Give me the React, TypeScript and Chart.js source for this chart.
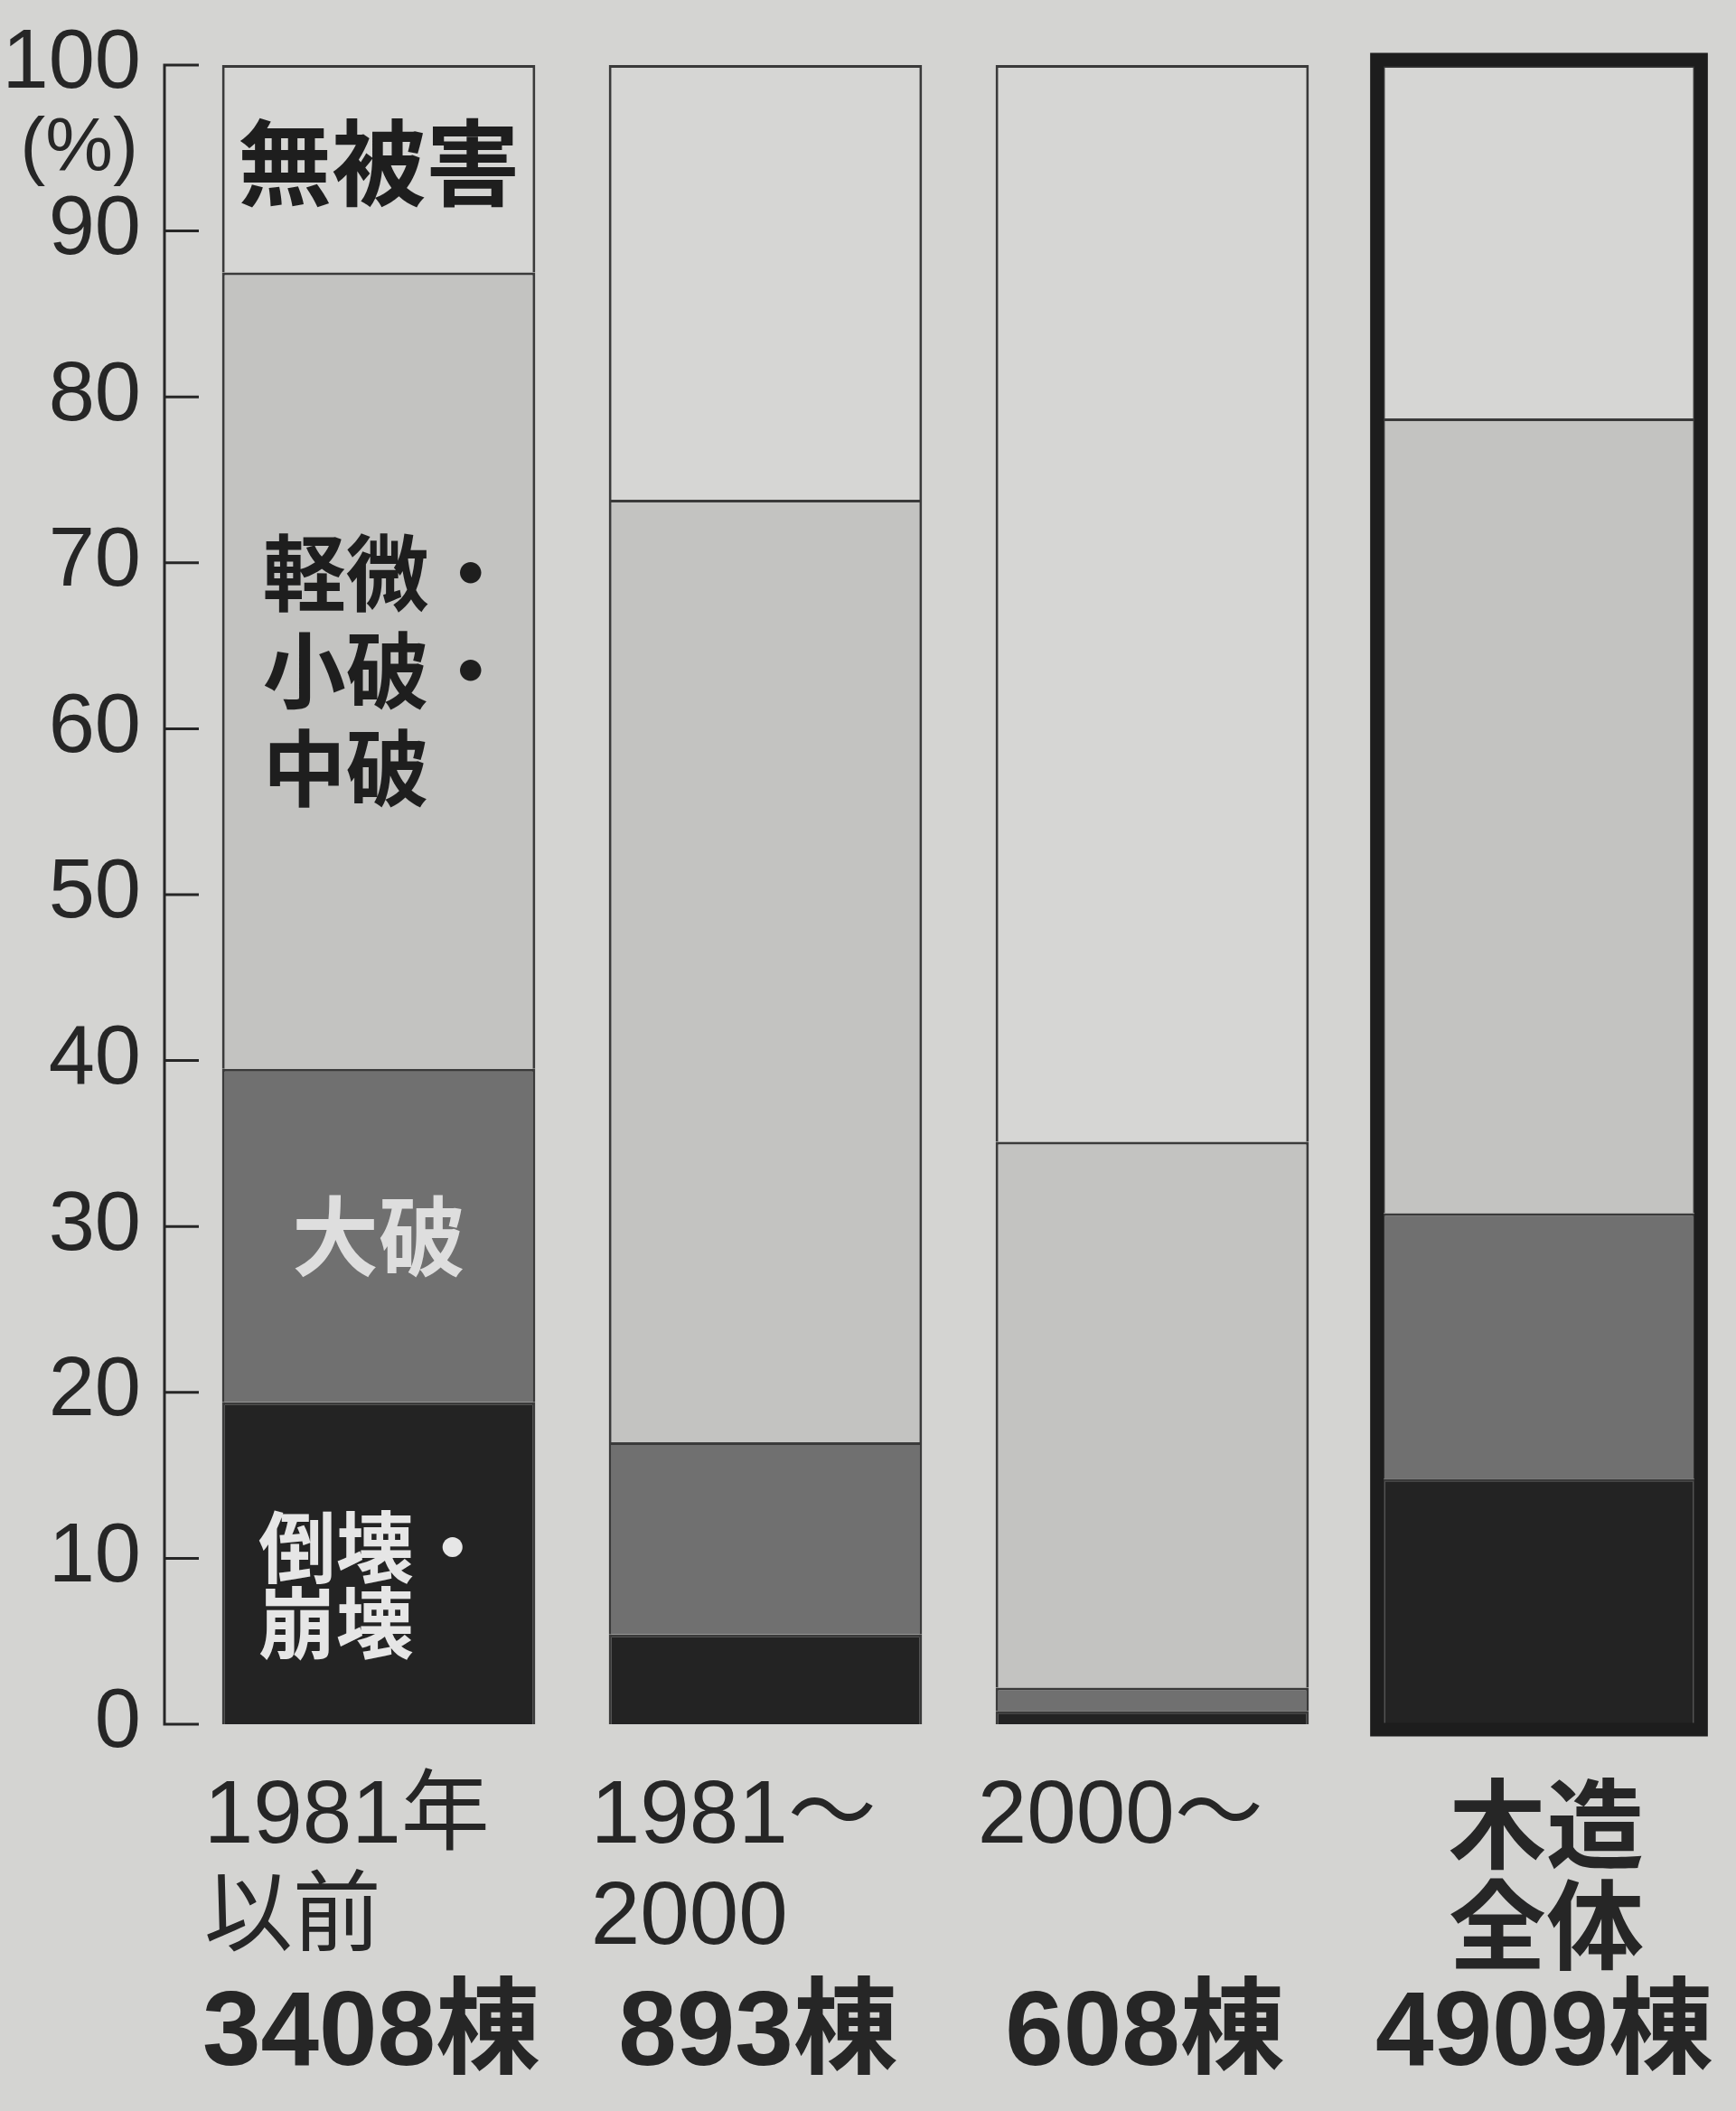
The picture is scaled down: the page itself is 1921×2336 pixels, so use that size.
import React, { useEffect, useRef } from "react";
import { Chart, registerables } from "chart.js";

Chart.register(...registerables);

// ---- data ----
const categories = ["1981年以前", "1981～2000", "2000～", "木造全体"];
const catLine1 = ["1981年", "1981～", "2000～", "木造"];
const catLine2 = ["以前", "2000", "", "全体"];
const buildingCounts = ["3408棟", "893棟", "608棟", "4909棟"];

const seriesNames = ["倒壊・崩壊", "大破", "軽微・小破・中破", "無被害"];
const collapse = [19.4, 5.4, 0.8, 14.8];
const severe = [20.1, 11.6, 1.4, 16.0];
const minor = [48.0, 56.8, 32.9, 47.9];
const noDamage = [12.5, 26.2, 64.9, 21.3];

const segmentLabels = [["倒壊・", "崩壊"], ["大破"], ["軽微・", "小破・", "中破"], ["無被害"]];
const yTickValues = [0, 10, 20, 30, 40, 50, 60, 70, 80, 90, 100];
const yUnit = "(%)";

// ---- styles ----
const PAPER = "#d4d4d2";
const INK = "#262626";
const fills = ["#232323", "#707070", "#c3c3c1", "#d6d6d4"];
const segTextColors = ["#e6e6e6", "#dedede", "#1e1e1e", "#1e1e1e"];
const NUM_FONT = '"Liberation Sans", "Noto Sans CJK JP", sans-serif';
const CJK_FONT = '"Noto Sans CJK JP", "Liberation Sans", sans-serif';

const paperPlugin = {
  id: "paper",
  beforeDraw(chart: any) {
    const { ctx, width, height } = chart;
    ctx.save();
    ctx.fillStyle = PAPER;
    ctx.fillRect(0, 0, width, height);
    ctx.restore();
  },
};

const axisPlugin = {
  id: "inwardAxis",
  afterDraw(chart: any) {
    const { ctx, chartArea } = chart;
    const y = chart.scales.y;
    const axisX = chartArea.left - 23;
    ctx.save();
    ctx.strokeStyle = INK;
    ctx.lineWidth = 3;
    ctx.beginPath();
    ctx.moveTo(axisX, y.getPixelForValue(100));
    ctx.lineTo(axisX, y.getPixelForValue(0));
    yTickValues.forEach((v) => {
      const py = y.getPixelForValue(v);
      ctx.moveTo(axisX - 1.5, py);
      ctx.lineTo(axisX + 38, py);
    });
    ctx.stroke();
    // unit label under "100"
    ctx.fillStyle = INK;
    ctx.font = `84px ${NUM_FONT}`;
    ctx.textAlign = "right";
    ctx.textBaseline = "middle";
    ctx.fillText(yUnit, chartArea.left - 52, y.getPixelForValue(100) + 94);
    ctx.restore();
  },
};

const framePlugin = {
  id: "totalFrame",
  afterDatasetsDraw(chart: any) {
    const { ctx } = chart;
    const last = categories.length - 1;
    const topEl = chart.getDatasetMeta(3).data[last];
    const botEl = chart.getDatasetMeta(0).data[last];
    if (!topEl || !botEl) return;
    const w = topEl.width;
    const x0 = topEl.x - w / 2;
    const yTop = topEl.y;
    const yBot = botEl.base;
    ctx.save();
    ctx.strokeStyle = "#1d1d1d";
    ctx.lineWidth = 15;
    ctx.strokeRect(x0 - 6, yTop - 6, w + 12, yBot - yTop + 12);
    ctx.restore();
  },
};

const segLabelPlugin = {
  id: "segLabels",
  afterDatasetsDraw(chart: any) {
    const { ctx } = chart;
    ctx.save();
    ctx.textBaseline = "middle";
    segmentLabels.forEach((lines, ds) => {
      const el = chart.getDatasetMeta(ds).data[0];
      if (!el) return;
      const cy = (el.y + el.base) / 2;
      const left = el.x - el.width / 2;
      let size = 92;
      let lh = 108;
      let align: CanvasTextAlign = "left";
      let x = left + 45;
      let shift = 0;
      if (ds === 0) { size = 86; lh = 84; x = left + 40; shift = 24; }
      if (ds === 1) { size = 96; align = "center"; x = el.x; }
      if (ds === 3) { size = 104; align = "center"; x = el.x; shift = -6; }
      ctx.font = `bold ${size}px ${CJK_FONT}`;
      ctx.fillStyle = segTextColors[ds];
      ctx.textAlign = align;
      const start = cy + shift - ((lines.length - 1) * lh) / 2;
      lines.forEach((t, k) => ctx.fillText(t, x, start + k * lh));
    });
    ctx.restore();
  },
};

const catLabelPlugin = {
  id: "catLabels",
  afterDraw(chart: any) {
    const { ctx, chartArea } = chart;
    const meta = chart.getDatasetMeta(0);
    ctx.save();
    ctx.fillStyle = INK;
    ctx.textBaseline = "middle";
    categories.forEach((_, i) => {
      const el = meta.data[i];
      const cx = el.x;
      const left = el.x - el.width / 2 - 20;
      const isTotal = i === categories.length - 1;
      if (isTotal) {
        ctx.font = `bold 108px ${CJK_FONT}`;
        ctx.textAlign = "center";
        ctx.fillText(catLine1[i], cx + 8, chartArea.bottom + 110);
        ctx.fillText(catLine2[i], cx + 8, chartArea.bottom + 222);
      } else {
        ctx.font = `98px ${NUM_FONT}`;
        ctx.textAlign = "left";
        ctx.fillText(catLine1[i], left, chartArea.bottom + 104);
        if (catLine2[i]) ctx.fillText(catLine2[i], left, chartArea.bottom + 216);
      }
      ctx.font = `bold 116px ${NUM_FONT}`;
      ctx.textAlign = "center";
      ctx.fillText(buildingCounts[i], cx - 8 + (isTotal ? 14 : 0), chartArea.bottom + 345);
    });
    ctx.restore();
  },
};

export default function App() {
  const ref = useRef<HTMLCanvasElement>(null);

  useEffect(() => {
    if (!ref.current) return;
    const series = [collapse, severe, minor, noDamage];
    const chart = new Chart(ref.current, {
      type: "bar",
      data: {
        labels: categories,
        datasets: series.map((d, i) => ({
          label: seriesNames[i],
          data: d,
          backgroundColor: fills[i],
          borderColor: "#3a3a3a",
          borderWidth: 3,
          borderSkipped: "start",
          barPercentage: 0.81,
          categoryPercentage: 1,
        })),
      },
      options: {
        responsive: false,
        maintainAspectRatio: false,
        devicePixelRatio: 1,
        animation: false,
        layout: { padding: { top: 72, bottom: 428, left: 0, right: 4 } },
        plugins: {
          legend: { display: false },
          tooltip: { enabled: false },
          title: { display: false },
        },
        scales: {
          x: { stacked: true, display: false },
          y: {
            stacked: true,
            min: 0,
            max: 100,
            afterBuildTicks: (scale: any) => {
              scale.ticks = yTickValues.map((v) => ({ value: v }));
            },
            afterFit: (scale: any) => {
              scale.width = 205;
              scale.paddingTop = 0;
              scale.paddingBottom = 0;
            },
            ticks: {
              padding: 49,
              color: INK,
              font: { family: NUM_FONT, size: 92 },
            },
            grid: { display: false, drawTicks: false },
            border: { display: false },
          },
        },
      },
      plugins: [paperPlugin, axisPlugin, framePlugin, segLabelPlugin, catLabelPlugin],
    } as any);
    return () => chart.destroy();
  }, []);

  return (
    <div style={{ position: "fixed", left: 0, top: 0, width: 1921, height: 2336, background: PAPER }}>
      <canvas ref={ref} width={1921} height={2336} style={{ display: "block", width: 1921, height: 2336 }} />
    </div>
  );
}
